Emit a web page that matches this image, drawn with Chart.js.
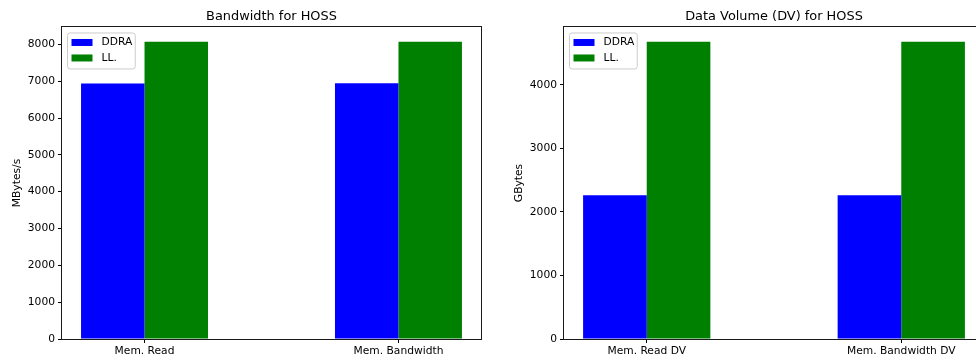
<!DOCTYPE html>
<html>
<head>
<meta charset="utf-8">
<title>HOSS memory bandwidth and data volume</title>
<script src="https://cdn.jsdelivr.net/npm/chart.js@4/dist/chart.umd.min.js"></script>
<style>
  html, body { margin: 0; padding: 0; background: #ffffff; overflow: hidden; }
  #page { position: relative; width: 976px; height: 360px; overflow: hidden; }
  .panel { position: absolute; top: 0; }
  canvas { display: block; }
</style>
</head>
<body>
<div id="page">
  <div class="panel" style="left:0px"><canvas id="bwChart" width="490" height="360"></canvas></div>
  <div class="panel" style="left:490px"><canvas id="dvChart" width="500" height="360"></canvas></div>
</div>
<script>
// ---- data ----
const seriesNames = ['DDRA', 'LL.'];

const bwCategories = ['Mem. Read', 'Mem. Bandwidth'];
const bwDDRA = [6937, 6945];
const bwLL = [8070, 8070];
const bwTicks = [0, 1000, 2000, 3000, 4000, 5000, 6000, 7000, 8000];

const dvCategories = ['Mem. Read DV', 'Mem. Bandwidth DV'];
const dvDDRA = [2260, 2260];
const dvLL = [4675, 4675];
const dvTicks = [0, 1000, 2000, 3000, 4000];

// ---- styling ----
const FONT = 'DejaVu Sans';
const TICK_SIZE = 10.7;
const TITLE_SIZE = 12.9;
const seriesColors = ['#0000ff', '#008000'];
const BAR_UNITS = 0.25;   // width of one bar in category units

Chart.defaults.font.family = FONT;
Chart.defaults.color = '#000000';

// Frame drawn on all four sides of the plotting area
const framePlugin = {
  id: 'frame',
  afterDraw(chart) {
    const a = chart.chartArea, ctx = chart.ctx;
    ctx.save();
    ctx.strokeStyle = '#1a1a1a';
    ctx.lineWidth = 1;
    ctx.strokeRect(Math.round(a.left) - 0.5, Math.round(a.top) - 0.5,
                   Math.round(a.right - a.left) + 1, Math.round(a.bottom - a.top) + 1);
    ctx.restore();
  }
};

// Legend box placed inside the upper-left corner of the plotting area
const insideLegendPlugin = {
  id: 'insideLegend',
  afterDatasetsDraw(chart) {
    const a = chart.chartArea, ctx = chart.ctx;
    const sets = chart.data.datasets;
    ctx.save();
    ctx.font = TICK_SIZE + 'px "' + FONT + '"';
    let textW = 0;
    sets.forEach(d => { textW = Math.max(textW, ctx.measureText(d.label).width); });
    const x = a.left + 5.5, y = a.top + 6;
    const patchW = 21, patchH = 7, rowH = 15.5;
    const w = 4 + patchW + 9 + textW + 3;
    const h = 5 + rowH * sets.length;
    const r = 2.5;
    ctx.beginPath();
    ctx.moveTo(x + r, y);
    ctx.lineTo(x + w - r, y);
    ctx.quadraticCurveTo(x + w, y, x + w, y + r);
    ctx.lineTo(x + w, y + h - r);
    ctx.quadraticCurveTo(x + w, y + h, x + w - r, y + h);
    ctx.lineTo(x + r, y + h);
    ctx.quadraticCurveTo(x, y + h, x, y + h - r);
    ctx.lineTo(x, y + r);
    ctx.quadraticCurveTo(x, y, x + r, y);
    ctx.closePath();
    ctx.fillStyle = 'rgba(255,255,255,0.8)';
    ctx.fill();
    ctx.strokeStyle = '#cccccc';
    ctx.lineWidth = 1;
    ctx.stroke();
    sets.forEach((d, i) => {
      const cy = y + 9.5 + i * rowH;
      ctx.fillStyle = d.backgroundColor;
      ctx.fillRect(x + 4, cy - patchH / 2, patchW, patchH);
      ctx.fillStyle = '#000000';
      ctx.textBaseline = 'middle';
      ctx.textAlign = 'left';
      ctx.fillText(d.label, x + 4 + patchW + 9, cy);
    });
    ctx.restore();
  }
};

function makeChart(canvasId, title, yTitle, categories, seriesA, seriesB, yTicks, geom) {
  const n = categories.length;
  // x range: bars span [-BAR_UNITS, n-1+BAR_UNITS] plus 5% margins
  const lo = -BAR_UNITS, hi = (n - 1) + BAR_UNITS;
  const pad = (hi - lo) * 0.05;
  const yMax = Math.max(...seriesA, ...seriesB) * 1.05;
  const xs = categories.map((_, i) => i);

  return new Chart(document.getElementById(canvasId), {
    type: 'bar',
    data: {
      datasets: [
        { label: seriesNames[0], data: xs.map((x, i) => ({ x: x, y: seriesA[i] })),
          backgroundColor: seriesColors[0], borderWidth: 0 },
        { label: seriesNames[1], data: xs.map((x, i) => ({ x: x, y: seriesB[i] })),
          backgroundColor: seriesColors[1], borderWidth: 0 }
      ]
    },
    options: {
      responsive: false,
      animation: false,
      devicePixelRatio: 1,
      layout: { padding: { top: 0, right: geom.padRight, bottom: 0, left: 0 } },
      datasets: { bar: { barPercentage: 1, categoryPercentage: 2 * BAR_UNITS } },
      plugins: {
        legend: { display: false },
        tooltip: { enabled: false },
        title: {
          display: true, text: title, color: '#000000', fullSize: false,
          font: { family: FONT, size: TITLE_SIZE, weight: 'normal', lineHeight: 1.2 },
          padding: { top: 9.3, bottom: 2.2 }
        }
      },
      scales: {
        x: {
          type: 'linear', min: lo - pad, max: hi + pad, offset: false,
          afterBuildTicks: s => { s.ticks = xs.map(v => ({ value: v })); },
          afterFit: s => { s.height = 21; },
          border: { display: false },
          grid: { display: true, offset: false, drawOnChartArea: false, drawTicks: true,
                  tickLength: 4, tickColor: '#000000', tickWidth: 1 },
          ticks: { padding: 2, maxRotation: 0, autoSkip: false,
                   font: { family: FONT, size: TICK_SIZE }, color: '#000000',
                   callback: v => categories[v] }
        },
        y: {
          type: 'linear', min: 0, max: yMax,
          afterBuildTicks: s => { s.ticks = yTicks.map(v => ({ value: v })); },
          afterFit: s => { s.width = geom.axisWidth; },
          border: { display: false },
          grid: { display: true, drawOnChartArea: false, drawTicks: true,
                  tickLength: 4, tickColor: '#000000', tickWidth: 1 },
          ticks: { padding: 3, font: { family: FONT, size: TICK_SIZE }, color: '#000000',
                   callback: v => String(v) },
          title: { display: true, text: yTitle, color: '#000000',
                   font: { family: FONT, size: TICK_SIZE, lineHeight: 1.2 },
                   padding: { top: geom.titlePad, bottom: 0 } }
        }
      }
    },
    plugins: [framePlugin, insideLegendPlugin]
  });
}

makeChart('bwChart', 'Bandwidth for HOSS', 'MBytes/s', bwCategories, bwDDRA, bwLL, bwTicks,
          { axisWidth: 62, padRight: 9, titlePad: 10.6 });
makeChart('dvChart', 'Data Volume (DV) for HOSS', 'GBytes', dvCategories, dvDDRA, dvLL, dvTicks,
          { axisWidth: 74, padRight: 6, titlePad: 22.6 });
</script>
</body>
</html>
